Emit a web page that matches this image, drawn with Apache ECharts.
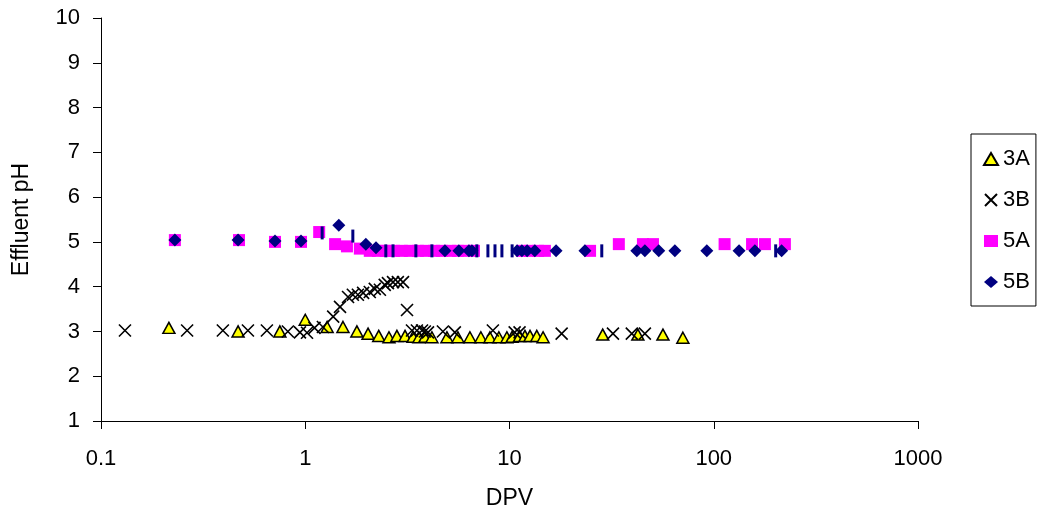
<!DOCTYPE html>
<html>
<head>
<meta charset="utf-8">
<script src="https://cdn.jsdelivr.net/npm/echarts@6/dist/echarts.min.js"></script>
<style>
html,body{margin:0;padding:0;background:#fff;}
#chart{width:1046px;height:521px;}
</style>
</head>
<body>
<div id="chart"></div>
<script>
// ---- data (DPV, pH) ----
var seriesNames = ['3A', '3B', '5A', '5B'];

var data3A = [
  [0.215, 3.08], [0.469, 3.0], [0.751, 3.0], [1.0, 3.26], [1.28, 3.1], [1.53, 3.1],
  [1.79, 3.0], [2.03, 2.95], [2.29, 2.9], [2.57, 2.87], [2.81, 2.9], [3.08, 2.9],
  [3.37, 2.88], [3.60, 2.87], [3.85, 2.88], [4.17, 2.87], [4.94, 2.87], [5.59, 2.87],
  [6.40, 2.87], [7.24, 2.87], [8.02, 2.87], [8.87, 2.87], [9.71, 2.87], [10.3, 2.88],
  [11.2, 2.9], [11.9, 2.9], [12.6, 2.9], [13.6, 2.9], [14.6, 2.87], [28.6, 2.93],
  [42.5, 2.93], [56.4, 2.93], [70.6, 2.86]
];

var data3B = [
  [0.131, 3.02], [0.264, 3.02], [0.395, 3.02], [0.524, 3.02], [0.649, 3.02], [0.822, 3.0],
  [0.942, 2.98], [1.02, 2.97], [1.11, 3.08], [1.22, 3.1], [1.37, 3.33], [1.48, 3.55],
  [1.62, 3.77], [1.71, 3.82], [1.81, 3.82], [1.92, 3.86], [2.07, 3.88], [2.19, 3.95],
  [2.32, 3.93], [2.45, 4.04], [2.54, 4.08], [2.69, 4.1], [2.84, 4.1], [3.01, 4.1],
  [3.15, 3.48], [3.33, 3.02], [3.52, 3.02], [3.73, 3.02], [3.85, 3.0], [3.99, 2.98],
  [4.72, 3.0], [5.40, 2.98], [8.29, 3.02], [10.6, 2.98], [11.2, 2.98], [18.0, 2.95],
  [32.1, 2.95], [39.7, 2.95], [46.0, 2.95]
];

var data5A = [
  [0.230, 5.04], [0.474, 5.04], [0.711, 5.0], [0.953, 5.0], [1.17, 5.22], [1.40, 4.95],
  [1.60, 4.9], [1.85, 4.85], [2.07, 4.8], [2.27, 4.8], [2.48, 4.8], [2.72, 4.8],
  [2.97, 4.8], [3.25, 4.8], [3.56, 4.8], [3.90, 4.8], [4.27, 4.8], [4.67, 4.8],
  [5.11, 4.8], [5.59, 4.8], [6.12, 4.8], [6.70, 4.8], [11.5, 4.8], [12.6, 4.8],
  [13.8, 4.8], [14.9, 4.8], [24.8, 4.8], [34.3, 4.95], [45.0, 4.95], [50.4, 4.95],
  [113, 4.95], [154, 4.95], [178, 4.95], [223, 4.95]
];

var data5B = [
  [0.230, 5.04], [0.469, 5.04], [0.711, 5.02], [0.953, 5.02], [1.46, 5.37], [1.98, 4.95],
  [2.22, 4.87], [4.83, 4.8], [5.65, 4.8], [6.33, 4.8], [6.55, 4.8], [10.9, 4.8],
  [11.5, 4.8], [12.2, 4.8], [13.3, 4.8], [16.9, 4.8], [23.4, 4.8], [42.0, 4.8],
  [46.0, 4.8], [53.8, 4.8], [64.5, 4.8], [92.5, 4.8], [133, 4.8], [159, 4.8], [215, 4.8]
];

// 5B points drawn as thin vertical dashes in the reference
var data5Bdash = [
  [1.21, 5.2], [1.71, 5.13], [2.48, 4.8], [2.69, 4.8], [3.48, 4.8], [4.17, 4.8],
  [6.92, 4.8], [7.84, 4.8], [8.49, 4.8], [9.18, 4.8], [10.3, 4.8], [28.3, 4.8], [201, 4.8]
];

var xTicks = [0.1, 1, 10, 100, 1000];
var yTicks = [1, 2, 3, 4, 5, 6, 7, 8, 9, 10];

// ---- chart ----
var FONT = 'Liberation Sans, Arial, sans-serif';
var crossPath = 'path://M0,0L10,10M10,0L0,10';

var chart = echarts.init(document.getElementById('chart'), null, {renderer: 'canvas'});

var dataB = data5B.map(function (p) { return p; }).concat(
  data5Bdash.map(function (p) {
    return {value: p, symbol: 'rect', symbolSize: [3, 13]};
  })
);

chart.setOption({
  animation: false,
  backgroundColor: '#fff',
  grid: {left: 101, right: 128, top: 18, bottom: 100, show: false},
  xAxis: {
    type: 'log',
    logBase: 10,
    min: xTicks[0],
    max: xTicks[xTicks.length - 1],
    name: 'DPV',
    nameLocation: 'middle',
    nameGap: 66,
    nameTextStyle: {fontFamily: FONT, fontSize: 23, color: '#000'},
    axisLine: {show: true, onZero: false, lineStyle: {color: '#000', width: 1}},
    axisTick: {show: true, inside: false, length: 8, lineStyle: {color: '#000'}},
    minorTick: {show: false},
    axisLabel: {
      fontFamily: FONT, fontSize: 22, color: '#000', margin: 27,
      formatter: function (v) { return String(v); }
    },
    splitLine: {show: false}
  },
  yAxis: {
    type: 'value',
    min: yTicks[0],
    max: yTicks[yTicks.length - 1],
    interval: 1,
    name: 'Effluent pH',
    nameLocation: 'middle',
    nameGap: 68,
    nameTextStyle: {fontFamily: FONT, fontSize: 23, color: '#000'},
    axisLine: {show: true, onZero: false, lineStyle: {color: '#000', width: 1}},
    axisTick: {show: true, inside: false, length: 8, lineStyle: {color: '#000'}},
    axisLabel: {fontFamily: FONT, fontSize: 22, color: '#000', margin: 21},
    splitLine: {show: false}
  },
  legend: {
    orient: 'vertical',
    left: 971,
    top: 134,
    padding: [14, 6, 13, 12],
    itemGap: 19,
    itemWidth: 14,
    itemHeight: 12,
    borderColor: '#000',
    borderWidth: 1,
    textStyle: {fontFamily: FONT, fontSize: 22, color: '#000', lineHeight: 22},
    data: seriesNames
  },
  series: [
    {
      name: seriesNames[0], type: 'scatter', data: data3A,
      symbol: 'triangle', symbolSize: [12, 11],
      itemStyle: {color: '#FFFF00', borderColor: '#000', borderWidth: 1.5, opacity: 1}
    },
    {
      name: seriesNames[1], type: 'scatter', data: data3B,
      symbol: crossPath, symbolSize: 12,
      itemStyle: {color: 'rgba(0,0,0,0)', borderColor: '#000', borderWidth: 1.6, opacity: 1}
    },
    {
      name: seriesNames[2], type: 'scatter', data: data5A,
      symbol: 'rect', symbolSize: 12,
      itemStyle: {color: '#FF00FF', opacity: 1}
    },
    {
      name: seriesNames[3], type: 'scatter', data: dataB,
      symbol: 'diamond', symbolSize: 13,
      itemStyle: {color: '#000080', opacity: 1}
    }
  ]
});
</script>
</body>
</html>
